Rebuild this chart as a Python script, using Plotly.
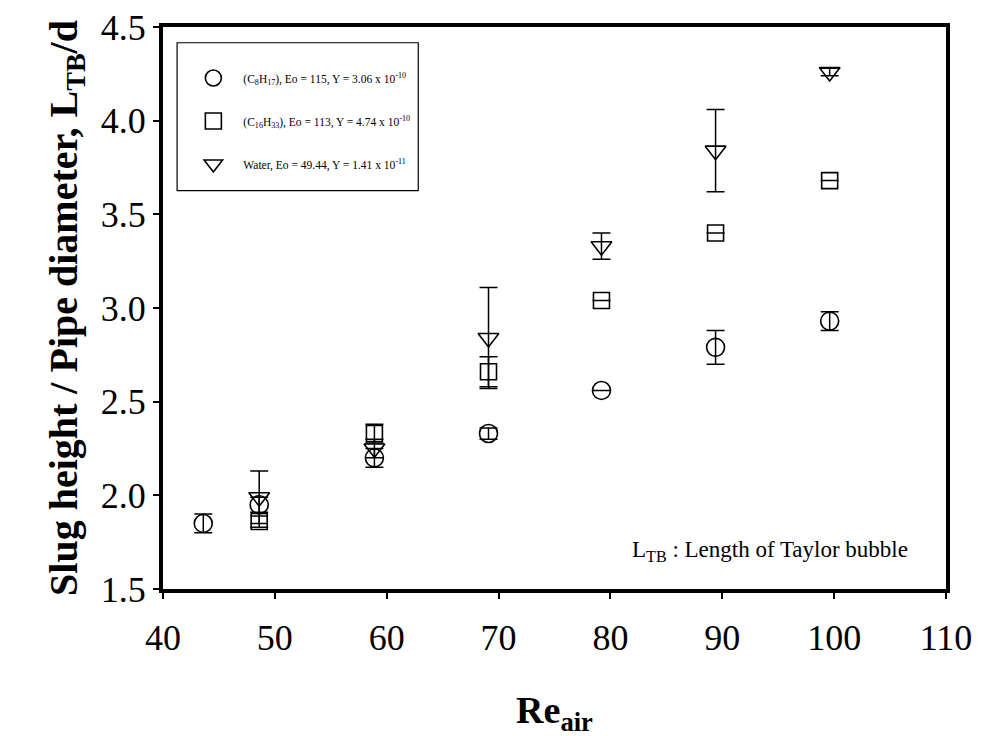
import plotly.graph_objects as go

# Data (None = no visible error bar)
re_air = [43.6, 48.6, 58.9, 69.1, 79.2, 89.4, 99.6]

c8_y = [1.85, 1.95, 2.20, 2.33, 2.56, 2.79, 2.93]
c8_err = [0.05, 0.04, 0.05, 0.03, None, 0.09, 0.05]

c16_x = [48.6, 58.9, 69.1, 79.2, 89.4, 99.6]
c16_y = [1.86, 2.33, 2.66, 3.04, 3.40, 3.68]
c16_err = [0.03, 0.05, 0.08, None, None, None]

water_x = [48.6, 58.9, 69.1, 79.2, 89.4, 99.6]
water_y = [1.99, 2.25, 2.84, 3.33, 3.84, 4.26]
water_err = [0.14, 0.05, 0.27, 0.07, 0.22, 0.02]

names = [
    "(C<sub>8</sub>H<sub>17</sub>), Eo = 115, Y = 3.06 x 10<sup>-10</sup>",
    "(C<sub>16</sub>H<sub>33</sub>), Eo = 113, Y = 4.74 x 10<sup>-10</sup>",
    "Water, Eo = 49.44, Y = 1.41 x 10<sup>-11</sup>",
]

x_ticks = [40, 50, 60, 70, 80, 90, 100, 110]
y_ticks = [1.5, 2.0, 2.5, 3.0, 3.5, 4.0, 4.5]

serif = "Liberation Serif, Times New Roman, serif"

fig = go.Figure()

def add(x, y, err, symbol, size, name, grp):
    fig.add_trace(go.Scatter(
        x=x, y=y, mode="markers", name=name, legendgroup=grp,
        marker=dict(symbol=symbol, size=size, color="black",
                    line=dict(color="black", width=1.6)),
        error_y=dict(type="data", array=err, visible=True, color="black",
                     thickness=1.5, width=9),
    ))

add(re_air, c8_y, c8_err, "circle-open", 18, names[0], "a")
add(c16_x, c16_y, c16_err, "square-open", 16, names[1], "b")
add(water_x, water_y, water_err, "triangle-down-open", 18, names[2], "c")

fig.update_layout(
    width=982, height=736,
    margin=dict(l=155, r=44, t=19, b=155),
    paper_bgcolor="white", plot_bgcolor="white",
    font=dict(family=serif, color="black"),
    showlegend=True,
    legend=dict(
        x=0.026, y=0.935, xanchor="left", yanchor="top",
        borderwidth=0, bgcolor="rgba(0,0,0,0)",
        font=dict(family=serif, size=11.5, color="black"),
        tracegroupgap=24, itemsizing="trace", itemwidth=50,
    ),
    shapes=[dict(
        type="rect", xref="paper", yref="paper",
        x0=0.018, x1=0.326, y0=0.709, y1=0.972,
        line=dict(color="black", width=1.2), layer="below",
    )],
    xaxis=dict(
        range=[40, 110], tickvals=x_ticks, ticktext=[str(v) for v in x_ticks],
        showgrid=False, zeroline=False, automargin=False,
        showline=True, mirror=True, linecolor="black", linewidth=4,
        ticks="outside", ticklen=6, tickwidth=1.5, tickcolor="black",
        ticklabelstandoff=8, ticklabeloverflow="allow",
        tickfont=dict(family=serif, size=36, color="black"),
        title=dict(text="<b>Re<sub>air</sub></b>",
                   font=dict(family=serif, size=38, color="black"), standoff=40),
    ),
    yaxis=dict(
        range=[1.5, 4.5], tickvals=y_ticks, ticktext=[f"{v:.1f}" for v in y_ticks],
        showgrid=False, zeroline=False, automargin=False,
        showline=True, mirror=True, linecolor="black", linewidth=4,
        ticks="outside", ticklen=6, tickwidth=1.5, tickcolor="black",
        ticklabeloverflow="allow",
        tickfont=dict(family=serif, size=36, color="black"),
        title=dict(text="<b>Slug height / Pipe diameter, L<sub>TB</sub>/d</b>",
                   font=dict(family=serif, size=40, color="black"), standoff=12),
    ),
    annotations=[dict(
        text="L<sub>TB</sub> : Length of Taylor bubble",
        xref="paper", yref="paper", x=0.954, y=0.067,
        xanchor="right", yanchor="middle", showarrow=False,
        font=dict(family=serif, size=23, color="black"),
    )],
)

fig.write_html("out.html")
